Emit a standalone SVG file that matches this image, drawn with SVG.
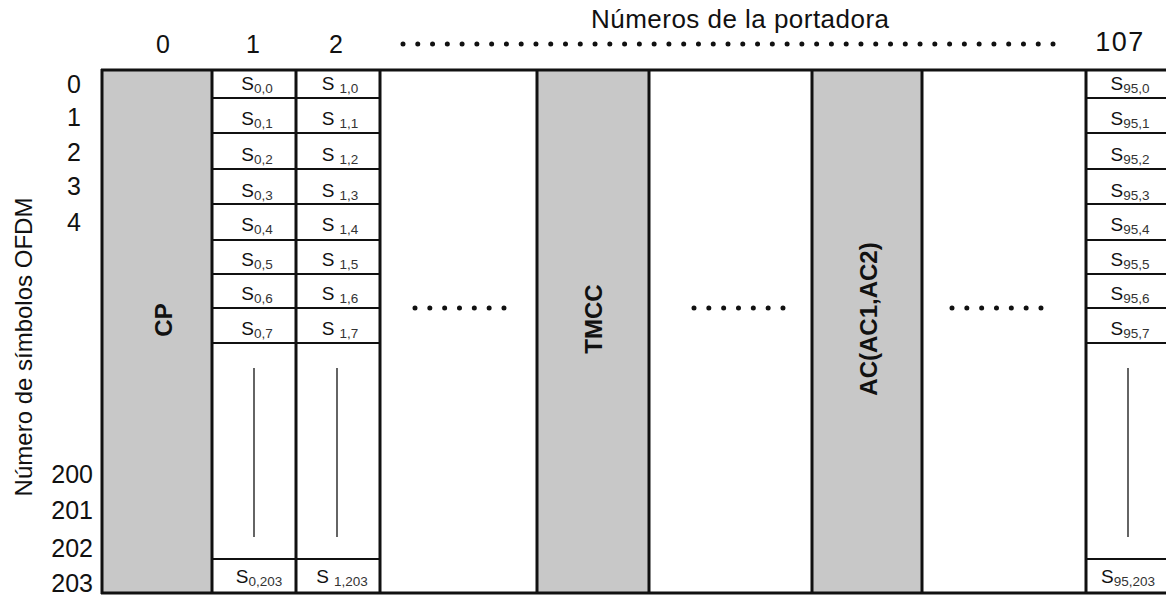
<svg xmlns="http://www.w3.org/2000/svg" width="1166" height="597" viewBox="0 0 1166 597">
<style>
text{font-family:"Liberation Sans",Arial,sans-serif;fill:#111}
.num{font-size:25px}
.ttl{font-size:26px}
.ax{font-size:24px}
.bl{font-size:24px;font-weight:bold}
.s{font-size:19px;text-anchor:middle}
.sub{font-size:13.5px;fill:#333}
.gray{fill:#c8c8c8}
.thick{stroke:#111;stroke-width:3;fill:none}
.thin{stroke:#111;stroke-width:1.8;fill:none}
.vl{stroke:#111;stroke-width:1.3}
.dots{stroke:#111;stroke-width:5;stroke-linecap:round;fill:none}
</style>
<rect width="1166" height="597" fill="#fff"/>

<g id="title">
<text class="ttl" x="591" y="28" textLength="298">Números de la portadora</text>
<line class="dots" x1="403" y1="44" x2="1053.2" y2="44" stroke-dasharray="0 14.773"/>
</g>

<g id="col-labels" class="num">
<text x="163" y="53" text-anchor="middle">0</text>
<text x="253" y="53" text-anchor="middle">1</text>
<text x="336" y="53" text-anchor="middle">2</text>
<text x="1120" y="51" text-anchor="middle" font-size="27" letter-spacing="1.5">107</text>
</g>

<g id="row-labels" class="num" text-anchor="end">
<text x="81" y="93">0</text>
<text x="81" y="126">1</text>
<text x="81" y="161">2</text>
<text x="81" y="195">3</text>
<text x="81" y="231">4</text>
<text x="93" y="483">200</text>
<text x="93" y="519">201</text>
<text x="93" y="557">202</text>
<text x="93" y="592">203</text>
</g>

<g id="y-axis-label">
<text class="ax" transform="translate(32,347) rotate(-90)" text-anchor="middle">Número de símbolos OFDM</text>
</g>

<g id="col-CP">
<rect class="gray" x="102" y="70" width="110" height="523"/>
<text class="bl" transform="translate(172,320) rotate(-90)" text-anchor="middle">CP</text>
</g>

<g id="col-TMCC">
<rect class="gray" x="537" y="70" width="112" height="523"/>
<text class="bl" transform="translate(602,319) rotate(-90)" text-anchor="middle">TMCC</text>
</g>

<g id="col-AC">
<rect class="gray" x="812" y="70" width="110" height="523"/>
<text class="bl" transform="translate(877,319) rotate(-90)" text-anchor="middle">AC(AC1,AC2)</text>
</g>

<g id="col-1">
<g class="thin">
<line x1="212" y1="98" x2="380" y2="98"/><line x1="212" y1="133" x2="380" y2="133"/>
<line x1="212" y1="169" x2="380" y2="169"/><line x1="212" y1="204" x2="380" y2="204"/>
<line x1="212" y1="240" x2="380" y2="240"/><line x1="212" y1="274" x2="380" y2="274"/>
<line x1="212" y1="308" x2="380" y2="308"/><line x1="212" y1="343" x2="380" y2="343"/>
<line x1="212" y1="559" x2="380" y2="559"/>
</g>
<line class="vl" x1="254" y1="368" x2="254" y2="537"/>
<text class="s" x="257" y="90">S<tspan class="sub" dy="3">0,0</tspan></text>
<text class="s" x="257" y="125">S<tspan class="sub" dy="3">0,1</tspan></text>
<text class="s" x="257" y="161">S<tspan class="sub" dy="3">0,2</tspan></text>
<text class="s" x="257" y="197">S<tspan class="sub" dy="3">0,3</tspan></text>
<text class="s" x="257" y="231">S<tspan class="sub" dy="3">0,4</tspan></text>
<text class="s" x="257" y="266">S<tspan class="sub" dy="3">0,5</tspan></text>
<text class="s" x="257" y="300">S<tspan class="sub" dy="3">0,6</tspan></text>
<text class="s" x="257" y="335">S<tspan class="sub" dy="3">0,7</tspan></text>
<text class="s" x="259" y="583">S<tspan class="sub" dy="3">0,203</tspan></text>
</g>

<g id="col-2">
<line class="vl" x1="337" y1="368" x2="337" y2="537"/>
<text class="s" x="340" y="90">S <tspan class="sub" dy="3">1,0</tspan></text>
<text class="s" x="340" y="125">S <tspan class="sub" dy="3">1,1</tspan></text>
<text class="s" x="340" y="161">S <tspan class="sub" dy="3">1,2</tspan></text>
<text class="s" x="340" y="197">S <tspan class="sub" dy="3">1,3</tspan></text>
<text class="s" x="340" y="231">S <tspan class="sub" dy="3">1,4</tspan></text>
<text class="s" x="340" y="266">S <tspan class="sub" dy="3">1,5</tspan></text>
<text class="s" x="340" y="300">S <tspan class="sub" dy="3">1,6</tspan></text>
<text class="s" x="340" y="335">S <tspan class="sub" dy="3">1,7</tspan></text>
<text class="s" x="342" y="583">S <tspan class="sub" dy="3">1,203</tspan></text>
</g>

<g id="col-107">
<g class="thin">
<line x1="1086" y1="98" x2="1166" y2="98"/><line x1="1086" y1="133" x2="1166" y2="133"/>
<line x1="1086" y1="169" x2="1166" y2="169"/><line x1="1086" y1="204" x2="1166" y2="204"/>
<line x1="1086" y1="240" x2="1166" y2="240"/><line x1="1086" y1="274" x2="1166" y2="274"/>
<line x1="1086" y1="308" x2="1166" y2="308"/><line x1="1086" y1="343" x2="1166" y2="343"/>
<line x1="1086" y1="559" x2="1166" y2="559"/>
</g>
<line class="vl" x1="1128" y1="368" x2="1128" y2="537"/>
<text class="s" x="1130" y="90">S<tspan class="sub" dy="3">95,0</tspan></text>
<text class="s" x="1130" y="125">S<tspan class="sub" dy="3">95,1</tspan></text>
<text class="s" x="1130" y="161">S<tspan class="sub" dy="3">95,2</tspan></text>
<text class="s" x="1130" y="197">S<tspan class="sub" dy="3">95,3</tspan></text>
<text class="s" x="1130" y="231">S<tspan class="sub" dy="3">95,4</tspan></text>
<text class="s" x="1130" y="266">S<tspan class="sub" dy="3">95,5</tspan></text>
<text class="s" x="1130" y="300">S<tspan class="sub" dy="3">95,6</tspan></text>
<text class="s" x="1130" y="335">S<tspan class="sub" dy="3">95,7</tspan></text>
<text class="s" x="1128" y="583">S<tspan class="sub" dy="3">95,203</tspan></text>
</g>

<g id="ellipses">
<line class="dots" x1="415" y1="308" x2="504.1" y2="308" stroke-dasharray="0 14.83"/>
<line class="dots" x1="694" y1="308" x2="783.1" y2="308" stroke-dasharray="0 14.83"/>
<line class="dots" x1="952" y1="308" x2="1041.1" y2="308" stroke-dasharray="0 14.83"/>
</g>

<g id="frame" class="thick">
<line x1="101" y1="70" x2="1166" y2="70"/>
<line x1="101" y1="593" x2="1166" y2="593"/>
<line x1="102" y1="69" x2="102" y2="594"/>
<line x1="212" y1="70" x2="212" y2="593"/>
<line x1="296" y1="70" x2="296" y2="593"/>
<line x1="380" y1="70" x2="380" y2="593"/>
<line x1="537" y1="70" x2="537" y2="593"/>
<line x1="649" y1="70" x2="649" y2="593"/>
<line x1="812" y1="70" x2="812" y2="593"/>
<line x1="922" y1="70" x2="922" y2="593"/>
<line x1="1086" y1="70" x2="1086" y2="593"/>
</g>
</svg>
